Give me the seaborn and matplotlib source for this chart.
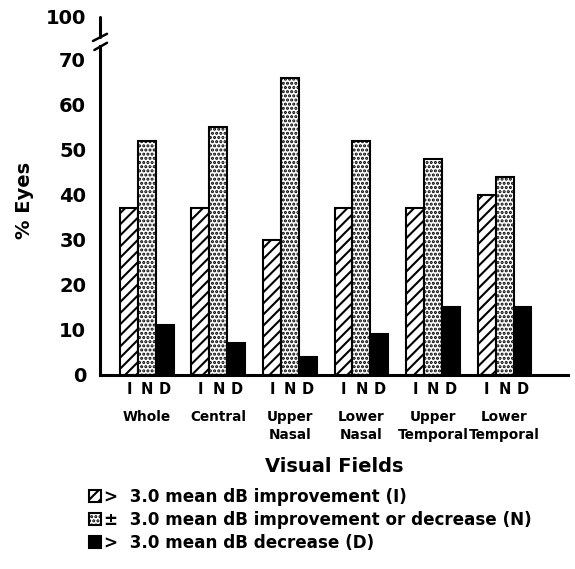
import numpy as np
import pandas as pd
import seaborn as sns
import matplotlib.pyplot as plt
import matplotlib.transforms as mtransforms

fields = ['Whole', 'Central', 'Upper\nNasal', 'Lower\nNasal', 'Upper\nTemporal', 'Lower\nTemporal']
codes = ['I', 'N', 'D']
improved = [37, 37, 30, 37, 37, 40]
no_change = [52, 55, 66, 52, 48, 44]
decreased = [11, 7, 4, 9, 15, 15]
ytick_vals = [0, 10, 20, 30, 40, 50, 60, 70]
legend_labels = ['>  3.0 mean dB improvement (I)',
                 '\u00b1  3.0 mean dB improvement or decrease (N)',
                 '>  3.0 mean dB decrease (D)']

df = pd.DataFrame({
    'field': fields * 3,
    'code': [c for c in codes for _ in fields],
    'pct': improved + no_change + decreased,
})

sns.set_style('white')
plt.rcParams['font.family'] = ['DejaVu Sans']
plt.rcParams['font.weight'] = 'bold'
plt.rcParams['text.color'] = 'black'
plt.rcParams['xtick.color'] = 'black'
plt.rcParams['ytick.color'] = 'black'
plt.rcParams['hatch.linewidth'] = 1.5
plt.rcParams['hatch.color'] = 'black'

fig = plt.figure(figsize=(5.75, 5.69), dpi=100)
ax = fig.add_axes([100 / 575, 1 - 375 / 569, 468 / 575, 361 / 569])

sns.barplot(data=df, x='field', y='pct', hue='code', order=fields, hue_order=codes,
            palette={'I': 'white', 'N': 'white', 'D': 'black'}, saturation=1,
            width=0.755, edgecolor='black', linewidth=1.5, legend=False, ax=ax)

hatches = ['///', '....', None]
for cont, h in zip(ax.containers, hatches):
    for p in cont:
        p.set_hatch(h)
        p.set_edgecolor('black')

ax.set_xlim(-0.657, 5.888)
ax.set_ylim(0, 80.2)

# y axis with break: top tick "100" sits just above the break
top_pos = 79.6
ax.set_yticks(ytick_vals + [top_pos], [str(v) for v in ytick_vals] + ['100'], fontsize=14)
ax.tick_params(axis='y', length=6, width=2, direction='out', pad=4)

# x ticks: I N D under bars, field names below
ax.xaxis.remove_overlapping_locs = False
centers = [p.get_x() + p.get_width() / 2 for cont in ax.containers for p in cont]
bar_labels = [c for c in codes for _ in fields]
ax.set_xticks(centers, minor=True)
ax.set_xticklabels(bar_labels, minor=True, fontsize=10.5)
ax.set_xticks(range(len(fields)), fields, fontsize=9.8, linespacing=1.4)
ax.tick_params(axis='x', which='both', length=0)
ax.tick_params(axis='x', which='minor', pad=5)
ax.tick_params(axis='x', which='major', pad=25)
ax.set_xlabel('')
ax.set_ylabel('')

for s in ['top', 'right']:
    ax.spines[s].set_visible(False)
for s in ['left', 'bottom']:
    ax.spines[s].set_linewidth(2.2)
    ax.spines[s].set_color('black')
ax.spines['left'].set_bounds(0, 73)

trans = mtransforms.blended_transform_factory(ax.transAxes, ax.transData)
ax.plot([0, 0], [75.2, top_pos], color='black', lw=2.2, transform=trans, clip_on=False)
ax.plot([-0.015, 0.015], [74.2, 75.8], color='black', lw=1.8, transform=trans, clip_on=False)
ax.plot([-0.012, 0.015], [72.2, 73.8], color='black', lw=1.8, transform=trans, clip_on=False)

fig.text(24 / 575, 1 - 200 / 569, '% Eyes', rotation=90, ha='center', va='center', fontsize=14)
fig.text(334 / 575, 1 - 467 / 569, 'Visual Fields', ha='center', va='center', fontsize=14)

handles = [cont.patches[0] for cont in ax.containers]
ax.legend(handles, legend_labels, loc='upper left', bbox_to_anchor=(89 / 575, 1 - 488 / 569),
          bbox_transform=fig.transFigure, frameon=False, borderpad=0, borderaxespad=0,
          handlelength=0.72, handleheight=0.72, handletextpad=0.2, labelspacing=0.3,
          prop={'size': 12.1, 'weight': 'bold'})

plt.savefig('out.png', dpi=100)
